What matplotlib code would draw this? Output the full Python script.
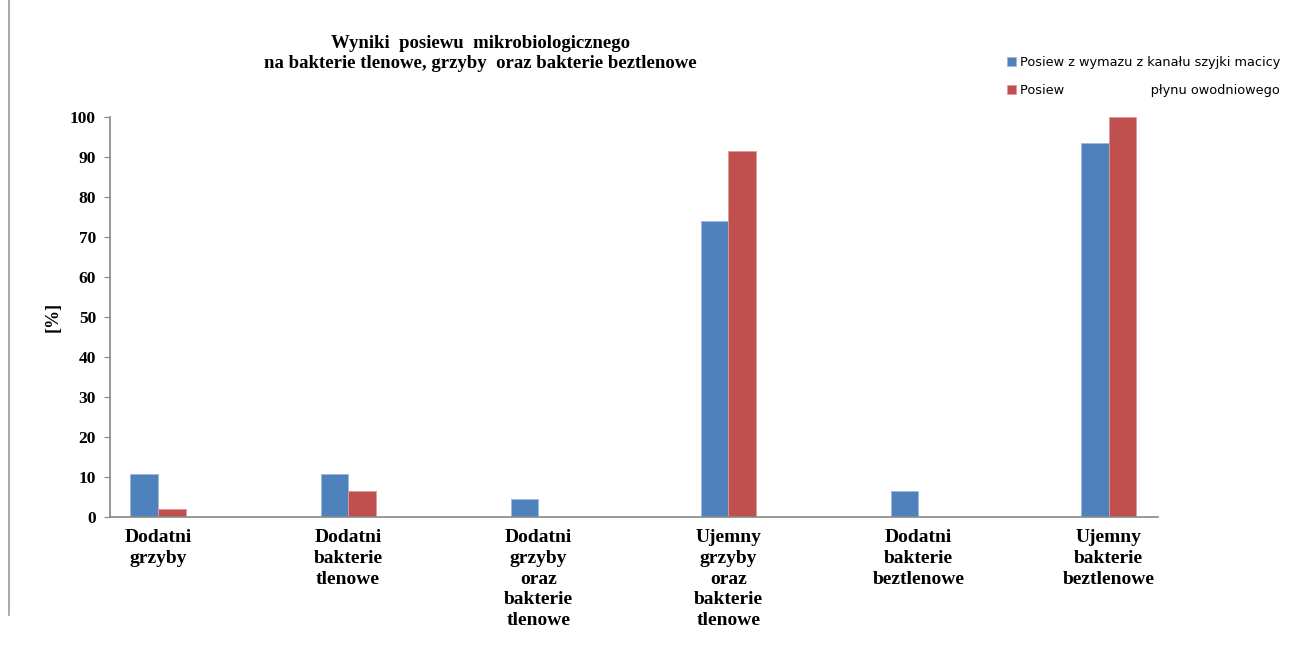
import matplotlib
matplotlib.use("Agg")
import matplotlib.pyplot as plt
import numpy as np

# data
categories = [
    "Dodatni\ngrzyby",
    "Dodatni\nbakterie\ntlenowe",
    "Dodatni\ngrzyby\noraz\nbakterie\ntlenowe",
    "Ujemny\ngrzyby\noraz\nbakterie\ntlenowe",
    "Dodatni\nbakterie\nbeztlenowe",
    "Ujemny\nbakterie\nbeztlenowe",
]
wymaz = [10.8, 10.8, 4.5, 74.0, 6.5, 93.5]
plyn = [2.0, 6.5, 0.0, 91.5, 0.0, 100.0]
series_labels = ["Posiew z wymazu z kanału szyjki macicy",
                 "Posiew                     płynu owodniowego"]
yticks = list(range(0, 101, 10))

BLUE = "#4F81BD"
RED = "#C0504D"
SERIF = "Liberation Serif"

fig = plt.figure(figsize=(12.92, 6.46), dpi=100)
ax = fig.add_axes([0.0851, 0.1997, 0.8112, 0.6192])

x = np.arange(len(categories))
w = 0.145
ax.bar(x - w / 2, wymaz, w, color=BLUE, edgecolor="#9db8dc", lw=0.6,
       label=series_labels[0])
ax.bar(x + w / 2, plyn, w, color=RED, edgecolor="#e09a98", lw=0.6,
       label=series_labels[1])

ax.set_xlim(-0.253, 5.26)
ax.set_ylim(0, 100)
ax.set_yticks(yticks)
ax.set_yticklabels([str(t) for t in yticks], fontfamily=SERIF,
                   fontweight="bold", fontsize=12.5)
ax.set_xticks(x)
ax.set_xticklabels(categories, fontfamily=SERIF, fontweight="bold",
                   fontsize=14, linespacing=1.28, va="top")
ax.tick_params(axis="x", length=0, pad=9)
ax.tick_params(axis="y", length=4, color="#888888", pad=6)
for s in ["top", "right"]:
    ax.spines[s].set_visible(False)
for s in ["left", "bottom"]:
    ax.spines[s].set_color("#888888")
    ax.spines[s].set_linewidth(1.2)

ax.set_ylabel("[%]", fontfamily=SERIF, fontweight="bold", fontsize=13,
              labelpad=6)

fig.text(0.372, 0.917,
         "Wyniki  posiewu  mikrobiologicznego\nna bakterie tlenowe, grzyby  oraz bakterie beztlenowe",
         ha="center", va="center", fontfamily=SERIF, fontweight="bold",
         fontsize=13.5, linespacing=1.25)

leg = fig.legend(loc="upper right", bbox_to_anchor=(1.0, 0.932), frameon=False,
                 prop={"family": "DejaVu Sans", "size": 9.3},
                 handlelength=0.7, handleheight=0.7, handletextpad=0.3,
                 labelspacing=1.2)

# thin gray border on the left, as in the source page
fig.add_artist(plt.Line2D([0.007, 0.007], [0.048, 1.0], color="#999999",
                          lw=1.2, transform=fig.transFigure))

fig.savefig("out.png", dpi=100)
